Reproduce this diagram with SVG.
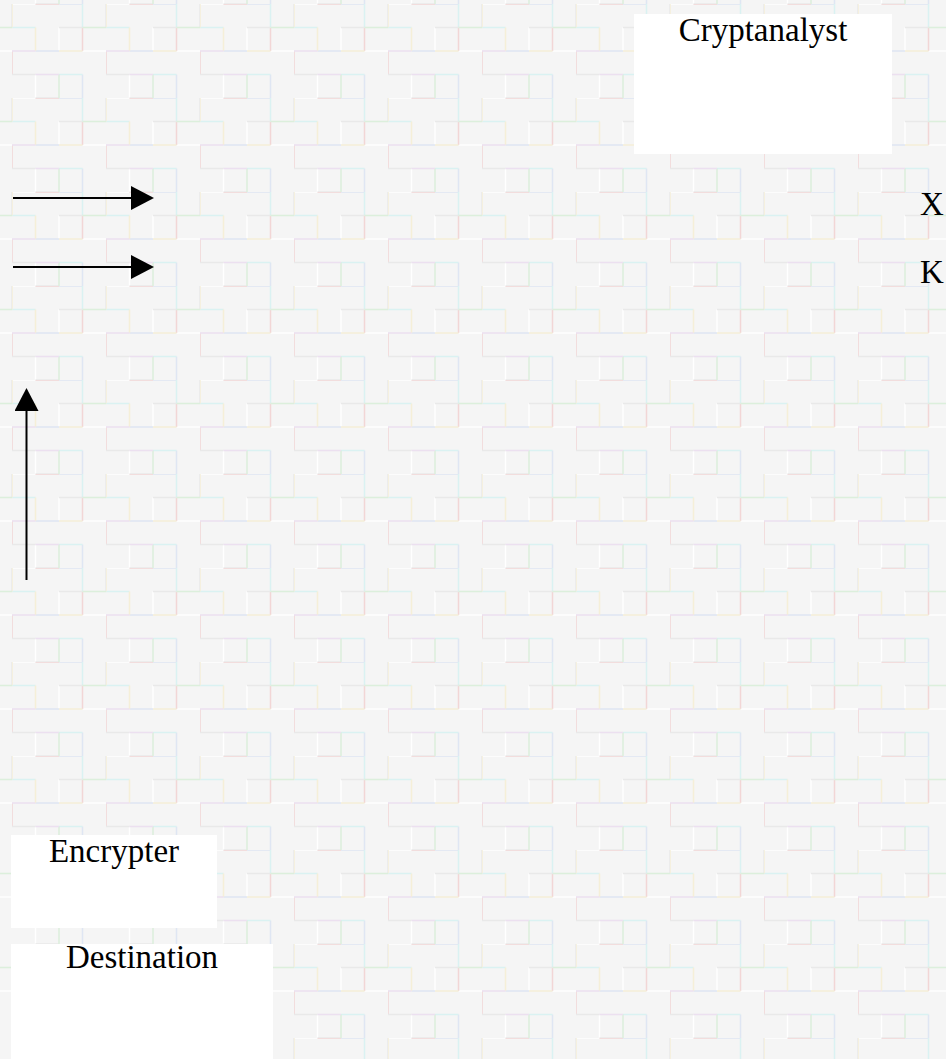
<svg xmlns="http://www.w3.org/2000/svg" width="946" height="1059" viewBox="0 0 946 1059">
<defs>
<style>
.lbl{font-family:"Liberation Serif","Times New Roman",serif;font-size:33px;fill:#000}
.box{fill:#fff}
.conn{stroke:#000;stroke-width:2;fill:none}
.g{stroke-width:1.5;fill:none}
</style>
<marker id="ah" viewBox="0 0 24 24" refX="2" refY="12" markerWidth="24" markerHeight="24" markerUnits="userSpaceOnUse" orient="auto">
<path d="M0,0 L23,12 L0,24 Z" fill="#000"/>
</marker>
<pattern id="bg" width="94" height="94" patternUnits="userSpaceOnUse" x="12" y="4">
<rect width="94" height="94" fill="#f5f5f5"/>
<path class="g" stroke="#ffffff" d="M0,0 H23.5 M47,23.5 V47 M70.5,47 H94 M23.5,70.5 V94"/>
<path class="g" stroke="#f2d6d6" d="M23.5,0 H47 M0,47 V70.5 M70.5,23.5 V47"/>
<path class="g" stroke="#dfe6f3" d="M47,0 H70.5 M23.5,47 H47 M70.5,70.5 V94"/>
<path class="g" stroke="#daf2f2" d="M70.5,0 V23.5 M0,23.5 H23.5 M47,70.5 H70.5"/>
<path class="g" stroke="#f5efd8" d="M0,0 V23.5 M23.5,23.5 V47 M47,47 H70.5"/>
<path class="g" stroke="#e9e9e9" d="M47,23.5 H70.5 M0,70.5 H23.5 M94,0 V23.5 M23.5,94 H47"/>
<path class="g" stroke="#dcefdc" d="M47,70.5 V94 M70.5,23.5 H94"/>
<path class="g" stroke="#ece0f0" d="M0,47 H23.5 M23.5,70.5 H47"/>
</pattern>
</defs>
<rect width="946" height="1059" fill="url(#bg)"/>
<g id="cryptanalyst">
<rect class="box" x="634" y="14" width="258" height="140"/>
<text class="lbl" x="763" y="41" text-anchor="middle">Cryptanalyst</text>
</g>
<g id="encrypter">
<rect class="box" x="11" y="835" width="206" height="93"/>
<text class="lbl" x="114" y="862" text-anchor="middle">Encrypter</text>
</g>
<g id="destination">
<rect class="box" x="11" y="944" width="262" height="115"/>
<text class="lbl" x="142" y="968" text-anchor="middle">Destination</text>
</g>
<g id="label-x"><text class="lbl" x="920" y="215">X</text></g>
<g id="label-k"><text class="lbl" x="920" y="283">K</text></g>
<g id="connectors">
<line class="conn" x1="13" y1="198" x2="133" y2="198" marker-end="url(#ah)"/>
<line class="conn" x1="13" y1="267" x2="133" y2="267" marker-end="url(#ah)"/>
<line class="conn" x1="26.5" y1="580" x2="26.5" y2="409" marker-end="url(#ah)"/>
</g>
</svg>
